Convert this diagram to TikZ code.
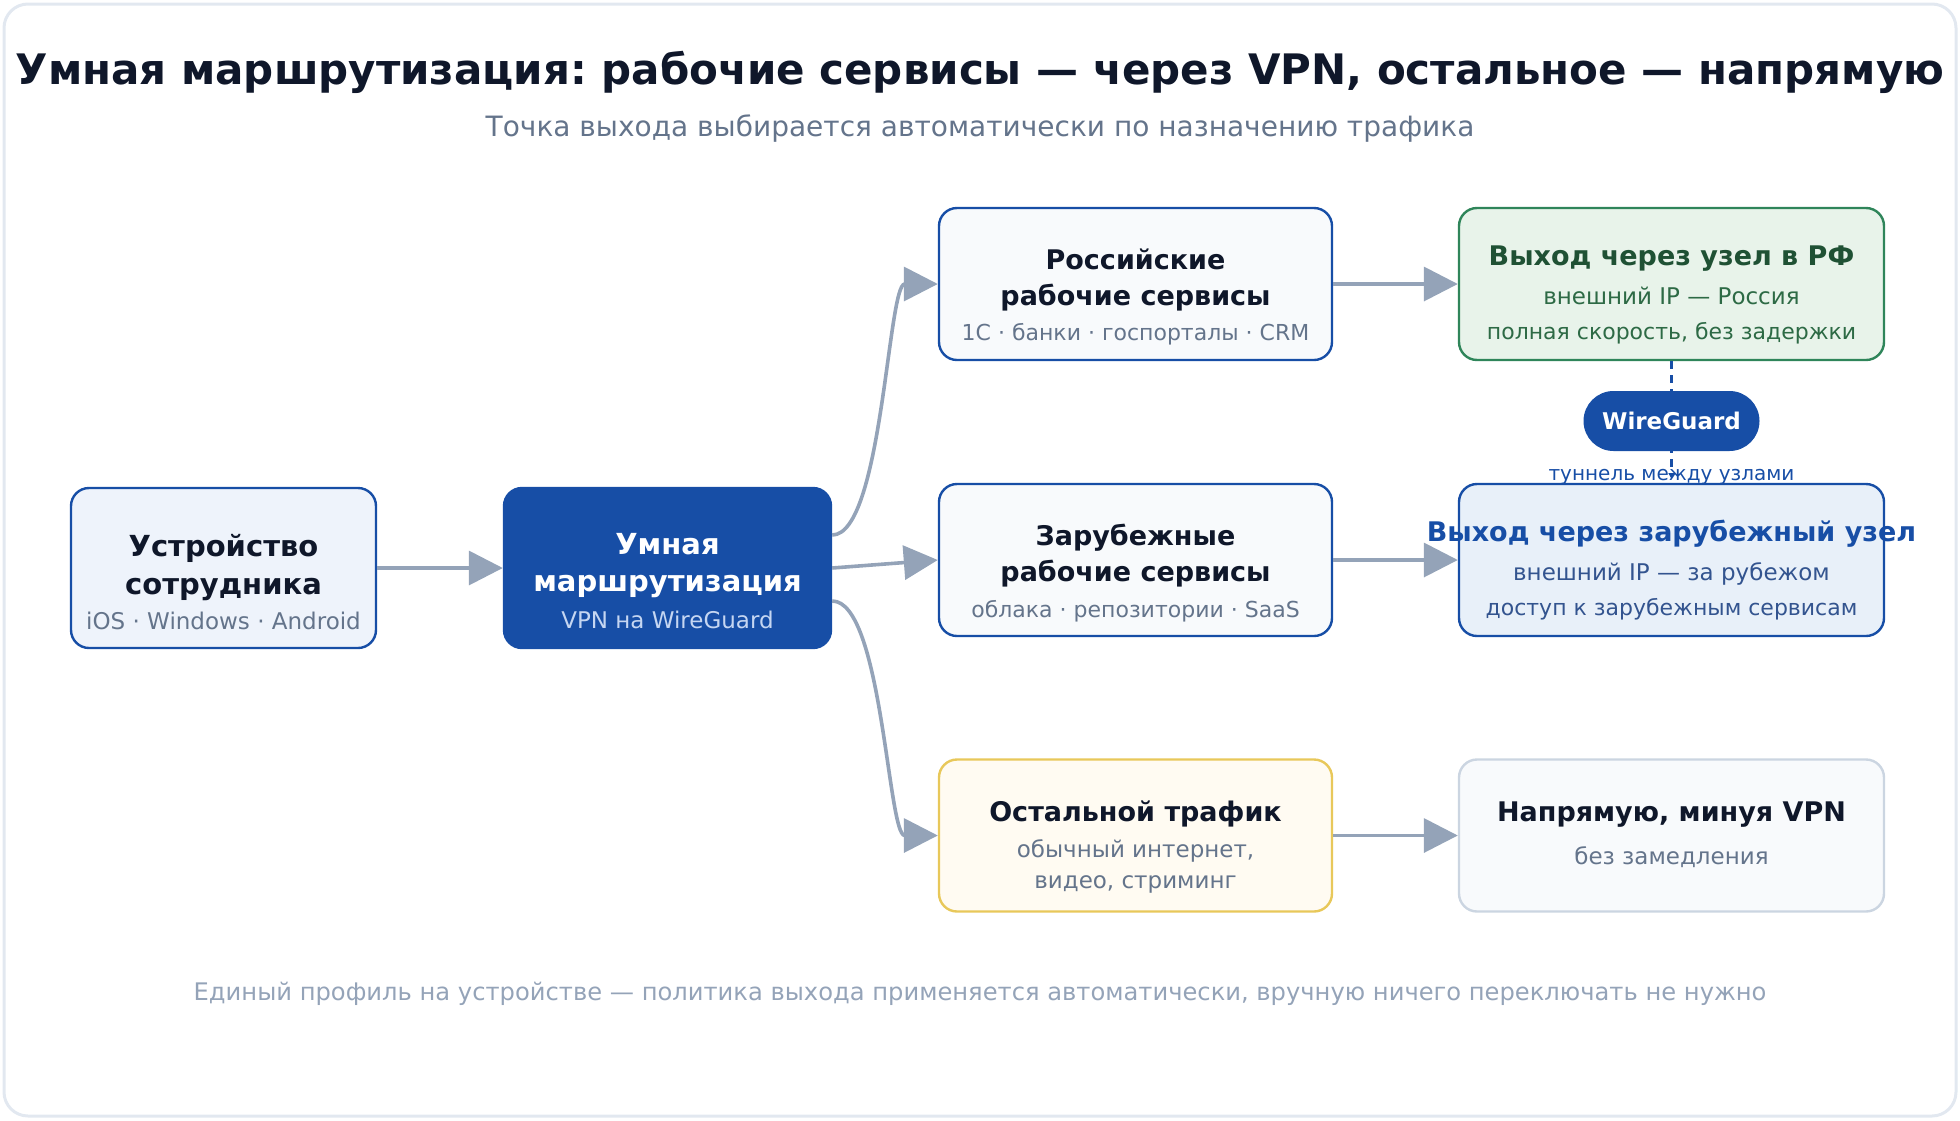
\documentclass[tikz,border=0pt]{standalone}
\usepackage{fontspec}
\setmainfont{DejaVu Sans}
\usetikzlibrary{arrows.meta,calc}
\frenchspacing
\definecolor{titlec}{HTML}{0F172A}
\definecolor{subc}{HTML}{64748B}
\definecolor{footc}{HTML}{94A3B8}
\definecolor{framec}{HTML}{E2E8F0}
\definecolor{bluec}{HTML}{174EA6}
\definecolor{devfill}{HTML}{EEF3FB}
\definecolor{svcfill}{HTML}{F8FAFC}
\definecolor{othfill}{HTML}{FFFBF2}
\definecolor{othdraw}{HTML}{E8C85A}
\definecolor{rffill}{HTML}{E8F3EA}
\definecolor{rfdraw}{HTML}{2F855A}
\definecolor{rftitle}{HTML}{1F5134}
\definecolor{rfsub}{HTML}{2D6A45}
\definecolor{frfill}{HTML}{E8F0F9}
\definecolor{frsub}{HTML}{33548F}
\definecolor{dirdraw}{HTML}{CBD5E1}
\definecolor{routesub}{HTML}{C5D6F2}
\definecolor{arrowc}{HTML}{94A3B8}
\begin{document}
\begin{tikzpicture}[x=0.5pt,y=-0.5pt,
  box/.style={draw=bluec, line width=1.2pt, rounded corners=9pt, inner sep=0pt},
  txt/.style={inner sep=0pt, anchor=base},
  ntitle/.style={txt, font=\fontsize{13.5pt}{16pt}\selectfont\bfseries, text=titlec},
  btitle/.style={txt, font=\fontsize{14.5pt}{17pt}\selectfont\bfseries, text=titlec},
  nsub/.style={txt, font=\fontsize{11pt}{13pt}\selectfont, text=subc},
  lsub/.style={txt, font=\fontsize{11.5pt}{13pt}\selectfont, text=subc},
  flow/.style={draw=arrowc, line width=1.8pt, -{Triangle[length=17pt,width=17pt]}}
]
\useasboundingbox (0,0) rectangle (1960,1120);
\draw[framec, line width=1.5pt, rounded corners=12pt] (4,4) rectangle (1956,1116);

\node[txt, font=\fontsize{21pt}{24pt}\selectfont\bfseries, text=titlec] (title) at (980,84) {Умная маршрутизация: рабочие сервисы — через VPN, остальное — напрямую};
\node[txt, font=\fontsize{14pt}{17pt}\selectfont, text=subc] (subtitle) at (980,136) {Точка выхода выбирается автоматически по назначению трафика};

% boxes
\node[box, fill=devfill, minimum width=152.5pt, minimum height=80pt] (dev) at (223.5,568) {};
\node[box, draw=bluec, fill=bluec, minimum width=163.5pt, minimum height=80pt] (route) at (667.5,568) {};
\node[box, fill=svcfill, minimum width=196.5pt, minimum height=76pt] (rus) at (1135.5,284) {};
\node[box, fill=svcfill, minimum width=196.5pt, minimum height=76pt] (for) at (1135.5,560) {};
\node[box, draw=othdraw, fill=othfill, minimum width=196.5pt, minimum height=76pt] (oth) at (1135.5,835.5) {};
\node[box, draw=rfdraw, fill=rffill, minimum width=212.5pt, minimum height=76pt] (rfx) at (1671.5,284) {};
\node[box, fill=frfill, minimum width=212.5pt, minimum height=76pt] (frx) at (1671.5,560) {};
\node[box, draw=dirdraw, fill=svcfill, minimum width=212.5pt, minimum height=76pt] (dir) at (1671.5,835.5) {};

% texts
\node[btitle] (devt1) at (223.5,556) {Устройство};
\node[btitle] (devt2) at (223.5,594) {сотрудника};
\node[lsub] (devs) at (223.5,629) {iOS · Windows · Android};

\node[btitle, text=white] (rt1) at (667.5,554) {Умная};
\node[btitle, text=white] (rt2) at (667.5,591) {маршрутизация};
\node[lsub, text=routesub] (rts) at (667.5,628) {VPN на WireGuard};

\node[ntitle] (rus1) at (1135.5,269) {Российские};
\node[ntitle] (rus2) at (1135.5,305) {рабочие сервисы};
\node[nsub] (russ) at (1135.5,340) {1С · банки · госпорталы · CRM};

\node[ntitle] (for1) at (1135.5,545) {Зарубежные};
\node[ntitle] (for2) at (1135.5,581) {рабочие сервисы};
\node[nsub] (fors) at (1135.5,617) {облака · репозитории · SaaS};

\node[ntitle] (oth1) at (1135.5,821) {Остальной трафик};
\node[lsub] (oth2) at (1135.5,857) {обычный интернет,};
\node[lsub] (oth3) at (1135.5,888) {видео, стриминг};

\node[ntitle, text=rftitle] (rf1) at (1671.5,265) {Выход через узел в РФ};
\node[lsub, text=rfsub] (rf2) at (1671.5,304) {внешний IP — Россия};
\node[nsub, text=rfsub] (rf3) at (1671.5,339) {полная скорость, без задержки};

\node[ntitle, text=bluec] (fr1) at (1671.5,541) {Выход через зарубежный узел};
\node[lsub, text=frsub] (fr2) at (1671.5,580) {внешний IP — за рубежом};
\node[nsub, text=frsub] (fr3) at (1671.5,615) {доступ к зарубежным сервисам};

\node[ntitle] (dir1) at (1671.5,821) {Напрямую, минуя VPN};
\node[lsub] (dir2) at (1671.5,864) {без замедления};

% tunnel
\node[txt, font=\fontsize{10pt}{12pt}\selectfont, text=bluec] (tunlbl) at (1671.5,480) {туннель между узлами};
\coordinate (tunend) at (1671.5,479);
\draw[bluec, line width=1.6pt, dash pattern=on 4pt off 3pt, -{Triangle[length=3pt,width=3pt]}] (rfx.south) -- (tunend);
\node[fill=bluec, rounded corners=15pt, minimum width=88pt, minimum height=30pt, inner sep=0pt, text=white, font=\fontsize{11.5pt}{13pt}\selectfont\bfseries] (wg) at (1671.5,421) {WireGuard};

% arrows
\draw[flow] (dev.east) -- (route.west);
\draw[flow] ($(route.east)+(0,-33)$) .. controls +(50,0) and +(-50,0) .. (rus.west);
\draw[flow] (route.east) -- (for.west);
\draw[flow] ($(route.east)+(0,33)$) .. controls +(50,0) and +(-50,0) .. (oth.west);
\draw[flow] (rus.east) -- (rfx.west);
\draw[flow] (for.east) -- (frx.west);
\draw[flow] (oth.east) -- (dir.west);

\node[txt, font=\fontsize{12.1pt}{14pt}\selectfont, text=footc] (foot) at (980,1000) {Единый профиль на устройстве — политика выхода применяется автоматически, вручную ничего переключать не нужно};
\end{tikzpicture}
\end{document}
